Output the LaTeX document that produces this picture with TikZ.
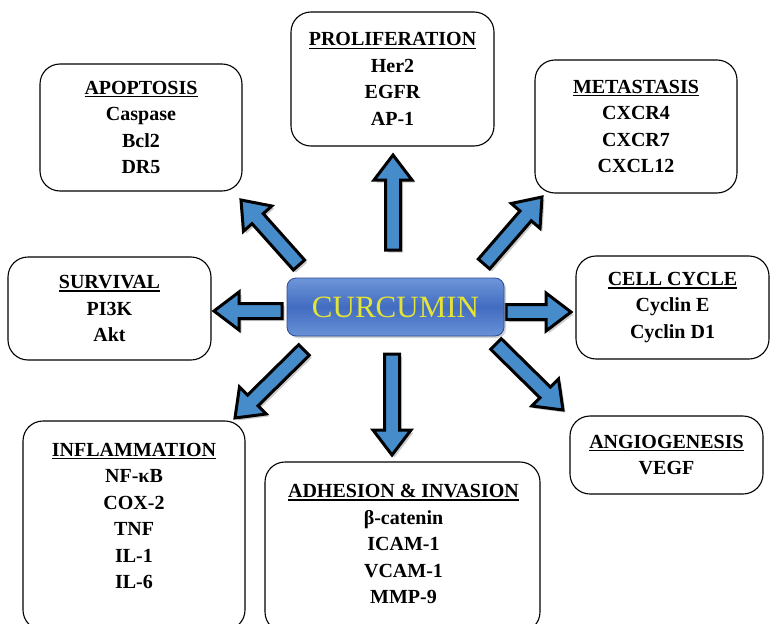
\documentclass[tikz,border=0pt]{standalone}
\usepackage{fontspec}
\setmainfont{Liberation Serif}
\usetikzlibrary{calc,shadows}
\definecolor{arrblue}{RGB}{70,140,202}
\definecolor{cyell}{RGB}{228,228,55}
\definecolor{ctop}{RGB}{110,150,218}
\definecolor{cmid}{RGB}{66,108,192}
\definecolor{cbot}{RGB}{105,145,215}
\definecolor{cedge}{RGB}{45,75,145}
\newcommand\titul[1]{\setbox0\hbox{#1}\rlap{\rule[-3.2pt]{\wd0}{1.5pt}}\box0}
\newcommand\ashaft{7.5pt}
\newcommand\ahead{19pt}
\newcommand\alen{25pt}
\newcommand\blockarrow[2]{%
  \coordinate (#2-base) at ($(#2)!\alen!(#1)$);
  \draw[barrow] ($(#1)!\ashaft!90:(#2)$) -- ($(#2-base)!\ashaft!90:(#2)$)
    -- ($(#2-base)!\ahead!90:(#2)$) -- (#2) -- ($(#2-base)!\ahead!-90:(#2)$)
    -- ($(#2-base)!\ashaft!-90:(#2)$) -- ($(#1)!\ashaft!-90:(#2)$) -- cycle;}
\tikzset{
  box/.style={rectangle, rounded corners=20pt, draw=black, line width=1.1pt,
    align=center, inner sep=0pt, font=\fontsize{20}{26.5}\selectfont\bfseries},
  boxtext/.style={align=center, inner sep=0pt, font=\fontsize{20}{26.5}\selectfont\bfseries},
  barrow/.style={fill=arrblue, draw=black, line width=3pt, line join=miter,
    drop shadow={shadow xshift=2.5pt, shadow yshift=-2.5pt, opacity=.45, fill=black!45}},
  center/.style={rectangle, rounded corners=9pt, draw=cedge, line width=0.8pt,
    top color=ctop, bottom color=cbot, middle color=cmid,
    minimum width=217pt, minimum height=58pt, text=cyell,
    font=\fontsize{31}{31}\selectfont,
    drop shadow={shadow xshift=2pt, shadow yshift=-2pt, opacity=.35, fill=black!50}}
}
\begin{document}
\begin{tikzpicture}[x=1pt, y=-1pt]
\useasboundingbox (0,0) rectangle (770,623);
% arrows
\coordinate (upS) at (393,250);  \coordinate (upT) at (393,155);
\coordinate (ulS) at (299,265);  \coordinate (ulT) at (241,200);
\coordinate (urS) at (484,264);  \coordinate (urT) at (542,197);
\coordinate (lS) at (282,311);   \coordinate (lT) at (214,311);
\coordinate (rS) at (506,312);   \coordinate (rT) at (571,312);
\coordinate (dlS) at (304,350);  \coordinate (dlT) at (235,418);
\coordinate (dS) at (392,354);   \coordinate (dT) at (392,455);
\coordinate (drS) at (496,344);  \coordinate (drT) at (563,410);
\blockarrow{upS}{upT}
\blockarrow{ulS}{ulT}
\blockarrow{urS}{urT}
\blockarrow{lS}{lT}
\blockarrow{rS}{rT}
\blockarrow{dlS}{dlT}
\blockarrow{dS}{dT}
\blockarrow{drS}{drT}
% center
\node[center] (cur) at (395.5,307) {CURCUMIN};
% boxes
\node[box, minimum width=203pt, minimum height=134pt] (prolif) at (392.5,79)
  {\titul{PROLIFERATION}\\Her2\\EGFR\\AP-1};
\node[box, minimum width=202pt, minimum height=127pt] (apop) at (141,127.5)
  {\titul{APOPTOSIS}\\Caspase\\Bcl2\\DR5};
\node[box, minimum width=202pt, minimum height=133pt] (meta) at (636,126.5)
  {\titul{METASTASIS}\\CXCR4\\CXCR7\\CXCL12};
\node[box, minimum width=203pt, minimum height=103pt] (surv) at (109.5,308.5)
  {\titul{SURVIVAL}\\PI3K\\Akt};
\node[box, minimum width=193pt, minimum height=103pt] (cell) at (672.5,307.5)
  {\titul{CELL CYCLE}\\Cyclin E\\Cyclin D1};
\node[box, minimum width=193pt, minimum height=78pt] (angio) at (666.5,455)
  {\titul{ANGIOGENESIS}\\VEGF};
\node[box, minimum width=222pt, minimum height=209pt] (infl) at (134,525.5) {};
\node[boxtext] (infltext) at (134,516)
  {\titul{INFLAMMATION}\\NF-κB\\COX-2\\TNF\\IL-1\\IL-6};
\node[box, minimum width=275pt, minimum height=170pt] (adh) at (402.5,547) {};
\node[boxtext] (adhtext) at (403.5,544)
  {\titul{ADHESION \& INVASION}\\β-catenin\\ICAM-1\\VCAM-1\\MMP-9};
\end{tikzpicture}
\end{document}
